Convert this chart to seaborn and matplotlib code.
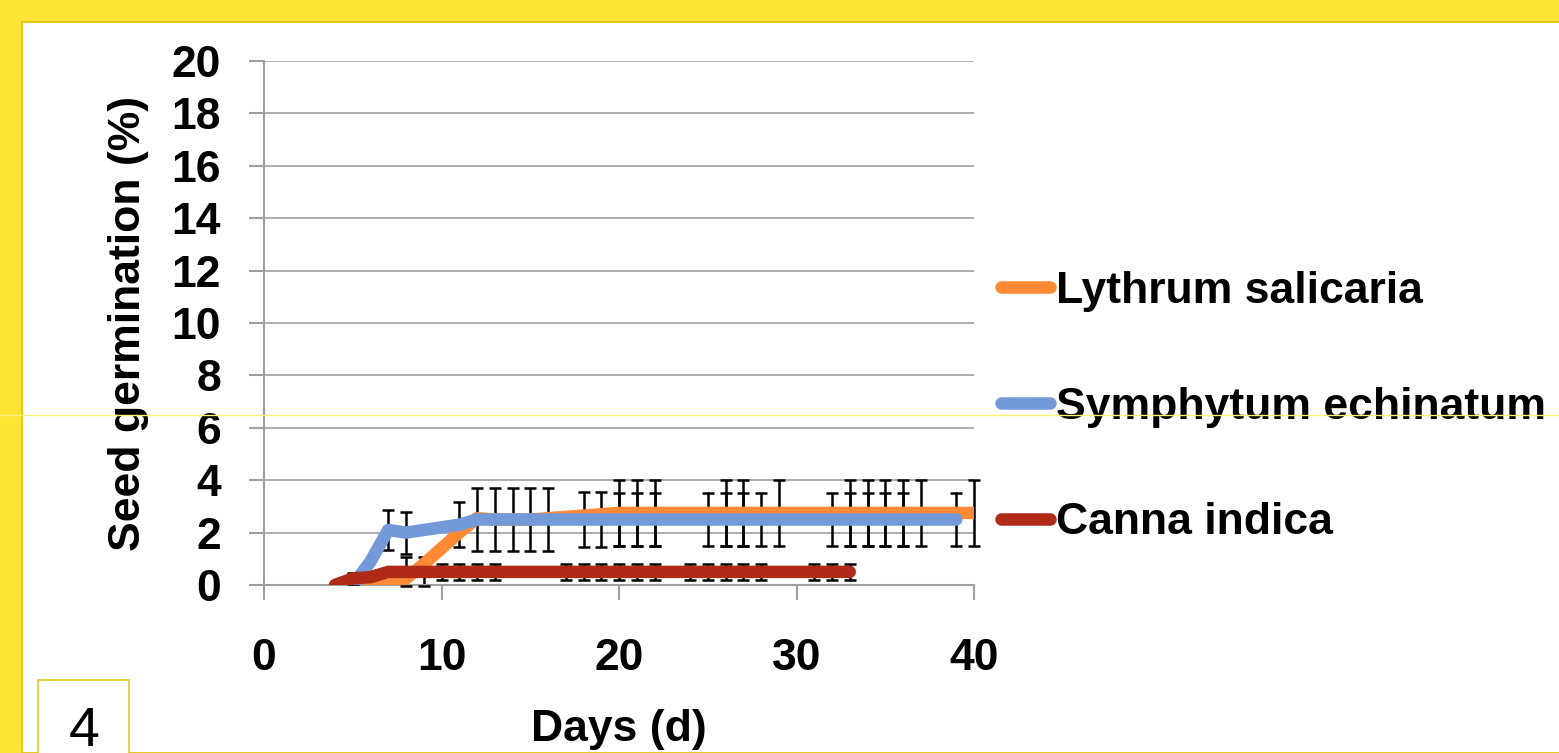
import matplotlib
matplotlib.use("Agg")
import matplotlib.pyplot as plt
from matplotlib.patches import Rectangle
from matplotlib.lines import Line2D
import numpy as np
import pandas as pd
import seaborn as sns

# ---------------- data ----------------
series_names = ["Lythrum salicaria", "Symphytum echinatum", "Canna indica"]

lythrum_days = [6, 7, 8, 9, 10, 11, 12, 13, 14, 15, 16, 18, 19, 20, 21, 22,
                25, 26, 27, 28, 29, 32, 33, 34, 35, 36, 37, 39, 40]
lythrum_vals = [0, 0, 0.25, 0.8, 1.4, 2.0, 2.55, 2.5, 2.5, 2.5, 2.55, 2.65, 2.7, 2.75, 2.75, 2.75,
                2.75, 2.75, 2.75, 2.75, 2.75, 2.75, 2.75, 2.75, 2.75, 2.75, 2.75, 2.75, 2.75]
lythrum_err = [np.nan, np.nan, np.nan, np.nan, np.nan, np.nan, np.nan, np.nan, np.nan, np.nan, np.nan,
               np.nan, np.nan, 1.25, 1.25, 1.25,
               np.nan, 1.25, 1.25, np.nan, 1.25, np.nan, 1.25, 1.25, 1.25, 1.25, 1.25, np.nan, 1.25]

symphytum_days = [5, 6, 7, 8, 9, 10, 11, 12, 13, 14, 15, 16, 18, 19, 20, 21, 22,
                  25, 26, 27, 28, 29, 32, 33, 34, 35, 36, 37, 39]
symphytum_vals = [0, 0.9, 2.1, 2.0, 2.1, 2.2, 2.3, 2.5, 2.5, 2.5, 2.5, 2.5, 2.5, 2.5, 2.5, 2.5, 2.5,
                  2.5, 2.5, 2.5, 2.5, 2.5, 2.5, 2.5, 2.5, 2.5, 2.5, 2.5, 2.5]
symphytum_err = [np.nan, np.nan, 0.75, 0.8, np.nan, np.nan, 0.85, 1.2, 1.2, 1.2, 1.2, 1.2, 1.05, 1.05,
                 1.0, 1.0, 1.0, 1.0, 1.0, 1.0, 1.0, np.nan, 1.0, 1.0, 1.0, 1.0, 1.0, np.nan, 1.0]

canna_days = [4, 5, 6, 7, 8, 9, 10, 11, 12, 13, 17, 18, 19, 20, 21, 22,
              24, 25, 26, 27, 28, 31, 32, 33]
canna_vals = [0, 0.25, 0.3, 0.5, 0.5, 0.5, 0.5, 0.5, 0.5, 0.5, 0.5, 0.5, 0.5, 0.5, 0.5, 0.5,
              0.5, 0.5, 0.5, 0.5, 0.5, 0.5, 0.5, 0.5]
canna_err = [np.nan, 0.2, 0.2, np.nan, 0.55, 0.55, 0.3, 0.3, 0.3, 0.3, 0.3, 0.3, 0.3, 0.3, 0.3, 0.3,
             0.3, 0.3, 0.3, 0.3, 0.3, 0.3, 0.3, 0.3]

x_ticks = [0, 10, 20, 30, 40]
y_ticks = [0, 2, 4, 6, 8, 10, 12, 14, 16, 18, 20]
x_label = "Days (d)"
y_label = "Seed germination (%)"
panel_number = "4"

colors = {"Lythrum salicaria": "#FF8A36",
          "Symphytum echinatum": "#7399D8",
          "Canna indica": "#B02A18"}

# ---------------- figure ----------------
sns.set_theme(style="white")
plt.rcParams["font.family"] = ["Liberation Sans", "DejaVu Sans"]
plt.rcParams["text.color"] = "black"
plt.rcParams["axes.labelcolor"] = "black"

W, H = 1559, 753
fig = plt.figure(figsize=(W / 100, H / 100), dpi=100)
fig.patch.set_facecolor("#FFE335")

# white slide panel
fig.add_artist(Rectangle((22 / W, 0), 1.0, (H - 22) / H, transform=fig.transFigure,
                         facecolor="white", edgecolor="#E2C91E", linewidth=1.5, zorder=0))
# thin yellow stray line across the slide
fig.add_artist(Line2D([0, 1], [1 - 415 / H, 1 - 415 / H], transform=fig.transFigure,
                      color="#FFF07A", linewidth=1.0, zorder=10))
# panel number box
fig.add_artist(Rectangle((38 / W, -0.01), 91 / W, (H - 680) / H + 0.01, transform=fig.transFigure,
                         facecolor="white", edgecolor="#E2C91E", linewidth=1.2, zorder=1))
fig.text(84 / W, 1 - 706 / H, panel_number, ha="center", va="top", fontsize=40,
         fontweight="normal", color="black", zorder=2)

ax = fig.add_axes([264 / W, 1 - 585 / H, 710 / W, 524 / H])
ax.set_facecolor("none")

long = pd.concat([
    pd.DataFrame({"day": lythrum_days, "value": lythrum_vals, "err": lythrum_err, "species": series_names[0]}),
    pd.DataFrame({"day": symphytum_days, "value": symphytum_vals, "err": symphytum_err, "species": series_names[1]}),
    pd.DataFrame({"day": canna_days, "value": canna_vals, "err": canna_err, "species": series_names[2]}),
], ignore_index=True)

# error bars (behind the lines)
for sp in series_names:
    d = long[(long.species == sp) & long.err.notna()]
    ax.errorbar(d.day, d.value, yerr=d.err, fmt="none", ecolor="black", elinewidth=1.8,
                capsize=4.5, capthick=1.8, zorder=2, clip_on=False)

sns.lineplot(data=long, x="day", y="value", hue="species", hue_order=series_names,
             palette=colors, linewidth=9, ax=ax, legend=False, zorder=3,
             solid_capstyle="round", solid_joinstyle="round", sort=True, estimator=None)
# draw order: blue over orange, red on top
for i, line in enumerate(ax.get_lines()):
    line.set_zorder(3 + i)

ax.set_xlim(0, 40)
ax.set_ylim(0, 20)
ax.set_xticks(x_ticks)
ax.set_yticks(y_ticks)
ax.yaxis.grid(True, color="#A0A0A0", linewidth=1.2)
ax.xaxis.grid(False)
ax.set_axisbelow(True)
for s in ["top", "right"]:
    ax.spines[s].set_visible(False)
for s in ["left", "bottom"]:
    ax.spines[s].set_color("#A0A0A0")
    ax.spines[s].set_linewidth(1.5)
ax.tick_params(axis="both", which="major", direction="out", length=11, width=1.5,
               color="#A0A0A0", labelsize=32, labelcolor="black", bottom=True, left=True)
ax.tick_params(axis="y", pad=20)
ax.tick_params(axis="x", pad=27)
for lab in ax.get_xticklabels() + ax.get_yticklabels():
    lab.set_fontweight("bold")

ax.set_xlabel(x_label, fontsize=32, fontweight="bold", labelpad=22, color="black")
ax.set_ylabel(y_label, fontsize=32, fontweight="bold", labelpad=16, color="black")

handles = [Line2D([0], [0], color=colors[s], linewidth=9, solid_capstyle="round") for s in series_names]
leg = fig.legend(handles, series_names, loc="center left", bbox_to_anchor=(983 / W, 1 - 407 / H),
                 frameon=False, fontsize=32, handlelength=1.1, handletextpad=0.15,
                 labelspacing=1.68, borderaxespad=0)
for t in leg.get_texts():
    t.set_fontweight("bold")
    t.set_color("black")

fig.savefig("out.png", dpi=100, facecolor=fig.get_facecolor())
